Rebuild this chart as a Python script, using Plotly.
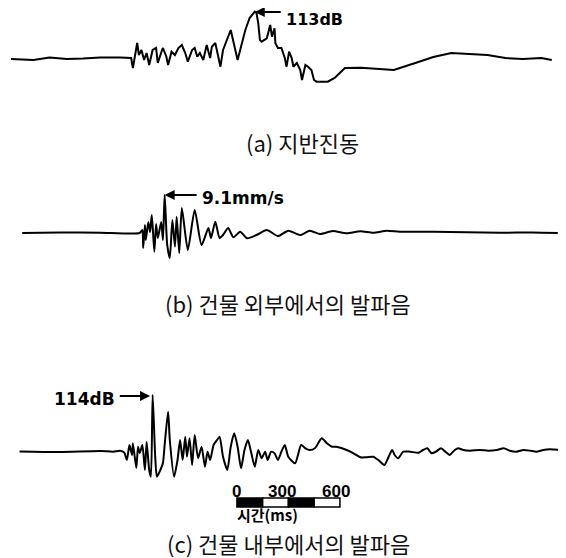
import plotly.graph_objects as go

# ---------------- data (time in ms, amplitude in relative units, baseline = 0) ----------------
ground_t = [0, 130, 225, 325, 420, 520, 635, 695, 700, 710, 735, 745, 760, 775, 790, 805, 825, 845,
            855, 880, 885, 905, 915, 935, 955, 975, 995, 1015, 1030, 1055, 1070, 1085, 1100, 1120,
            1140, 1160, 1170, 1190, 1200, 1220, 1235, 1250, 1270, 1280, 1320, 1345, 1365, 1390,
            1420, 1430, 1440, 1450, 1460, 1490, 1510, 1520, 1535, 1540, 1555, 1575, 1595, 1605,
            1620, 1635, 1645, 1665, 1685, 1695, 1715, 1730, 1750, 1765, 1780, 1845, 1885, 1915,
            1945, 2040, 2145, 2230, 2355, 2460, 2565, 2670, 2775, 2880, 2980, 3090, 3150]
ground_a = [-1, -2, 0.5, -1, -0.5, 0.5, 0.5, 0.5, 0, -10, 15, 3, 8, -2, 5, -7, 8, 10,
            -5, 8, 10, 1.3, -7, 6.3, 3, 10, 13, 5, -3.7, 8, 10, 1.3, 5, -2,
            13, 0, 11.3, 15, 6.3, -8.7, 8, 15, 25, 28, -2, 15, 28, 40,
            46.3, 45, 35, 18, 16.3, 19.7, 33, 21.3, 29.7, 14.7, 10, 10, 0, -8.7,
            6.3, 0, -8.7, -5, -12, -22, -7, -8.7, -12, -22, -23.7, -23.7, -20, -15,
            -10, -9.7, -11, -12, -5, 1, 5, 4, 3, 0, -1, 0, -2]

outdoor_t = [65, 285, 520, 750, 765, 770, 780, 785, 800, 810, 820, 835, 845, 855, 875, 885, 895,
             910, 925, 940, 955, 965, 980, 995, 1030, 1070, 1110, 1150, 1165, 1190, 1215, 1235,
             1265, 1295, 1335, 1375, 1430, 1490, 1555, 1615, 1685, 1740, 1800, 1875, 1955, 2035,
             2110, 2190, 2265, 2460, 2655, 2850, 3040, 3185]
outdoor_a = [0, 0.5, 0.3, 0, 3, -15, 8, -7, 11, 1, 18, -18.7, 9, -5, 11, -7, 38,
             -12, -25, 13, -13.7, 16.3, -20, 25, -17, 23, -12, 5, -5, 11.3, -5, -2,
             5, -4.3, 1.3, -5.3, -2, 3, -3, 2.3, -2, 2.3, -1, 2, -0.3, 1.7,
             0.3, 2.3, 1.3, 1.3, 0.7, 0.3, 0.5, 0]

indoor_t = [50, 285, 520, 595, 635, 660, 675, 690, 705, 710, 730, 740, 750, 765, 780, 790, 805, 815,
            825, 840, 850, 870, 885, 895, 915, 925, 950, 970, 985, 1000, 1015, 1025, 1040, 1055,
            1070, 1090, 1110, 1130, 1145, 1160, 1180, 1200, 1215, 1235, 1260, 1280, 1300, 1320,
            1340, 1360, 1380, 1400, 1420, 1440, 1460, 1480, 1495, 1515, 1535, 1555, 1575, 1595,
            1615, 1655, 1690, 1715, 1740, 1770, 1810, 1840, 1870, 1895, 1955, 1995, 2035, 2070,
            2110, 2140, 2175, 2200, 2220, 2235, 2255, 2285, 2325, 2375, 2400, 2425, 2450, 2475,
            2505, 2530, 2555, 2585, 2605, 2635, 2675, 2730, 2780, 2830, 2870, 2905, 2945, 2985,
            3025, 3060, 3100, 3140, 3200]
indoor_a = [-0.5, -1, 0, -0.7, 0.3, -1.7, -9, 6, -4, 7.7, -17, 4.3, -2, 6, -19, 9.3, -19, -25.7,
            56, -5.7, -25.7, -19, -12, 6, 39.3, 11, -25.7, -9, 11, -9, 14.3, -5.7, 12.7, -14,
            16, -7.3, 4.3, -15.7, -0.7, -9, 6, 11, 14.3, -5.7, -19, 4.3, 17.7, 4.3,
            -17.3, 1, 11, -2.3, -15.7, 1, -7.3, -0.7, -9, -0.7, -2.3, -9, -0.7, 6,
            -5.7, -12.3, 6, 2.7, 1, 2.7, 12.7, 7.7, 4.3, 4.3, 1, -2.3, -6.3, -6.3,
            -5.7, -9, -14, -5.7, 1, -4, -7.3, -0.7, -0.7, -1.7, 1, 2.7, -2.3, -0.7,
            2.7, -0.7, -4, 1, 2.7, 1, 0.3, 1, 0.3, 1, 2.7, 0.3, -0.7, 1,
            0.3, -0.7, 1, 1.7, 1]

# peak labels: (time of peak, amplitude of peak, label)
ground_peak = (1420, 46, "113dB")
outdoor_peak = (895, 38, "9.1mm/s")
indoor_peak = (810, 55, "114dB")

captions = ["(a) 지반진동", "(b) 건물 외부에서의 발파음", "(c) 건물 내부에서의 발파음"]
scale_ticks = [0, 300, 600]          # ms
scale_start = 1316                    # ms, position of the scale bar's zero
scale_title = "시간(ms)"

# ---------------- figure ----------------
# page has an 8px body margin: figure covers page pixels 8..566 x 8..558
W, H = 558, 550
OFF = 8
MS_PER_PX = 5.825


def px(p):       # page x pixel -> paper
    return (p - OFF) / W


def py(p):       # page y pixel -> paper
    return 1 - (p - OFF) / H


LINE = dict(color="black", width=2)

fig = go.Figure()
fig.add_trace(go.Scatter(x=ground_t, y=ground_a, mode="lines", line=LINE, yaxis="y",
                         hoverinfo="skip"))
fig.add_trace(go.Scatter(x=outdoor_t, y=outdoor_a, mode="lines",
                         line=dict(LINE, shape="spline", smoothing=0.6), yaxis="y2",
                         hoverinfo="skip"))
fig.add_trace(go.Scatter(x=indoor_t, y=indoor_a, mode="lines",
                         line=dict(LINE, shape="spline", smoothing=0.6), yaxis="y3",
                         hoverinfo="skip"))


def yr(base):    # baseline at page pixel `base`, 1 unit = 1 px
    top = base - OFF
    return [-(H - top), top]


hidden = dict(visible=False, fixedrange=True)
fig.update_layout(
    width=W, height=H,
    margin=dict(l=0, r=0, t=0, b=0),
    paper_bgcolor="white", plot_bgcolor="white",
    showlegend=False,
    xaxis=dict(range=[(OFF - 11) * MS_PER_PX, (OFF + W - 11) * MS_PER_PX], **hidden),
    yaxis=dict(range=yr(58), domain=[0, 1], **hidden),
    yaxis2=dict(range=yr(233), domain=[0, 1], overlaying="y", **hidden),
    yaxis3=dict(range=yr(451), domain=[0, 1], overlaying="y", **hidden),
)

ann = []
for (pt, pa, txt), yref, tail_dt, side in [
    (ground_peak, "y", 160, "right"),
    (outdoor_peak, "y2", 195, "right"),
    (indoor_peak, "y3", -185, "left"),
]:
    ann.append(dict(x=pt, y=pa, xref="x", yref=yref, ax=pt + tail_dt, ay=pa,
                    axref="x", ayref=yref, text="", showarrow=True,
                    arrowhead=2, arrowsize=1, arrowwidth=2, arrowcolor="black"))
    top_label = yref == "y"
    ann.append(dict(x=pt + tail_dt + (12 if side == "right" else -5),
                    y=py(8) if top_label else pa - 3,
                    xref="x", yref="paper" if top_label else yref,
                    text=txt, showarrow=False,
                    font=dict(family="DejaVu Sans", size=16 if top_label else 17,
                              color="black", weight="bold"),
                    xanchor="left" if side == "right" else "right",
                    yanchor="top" if top_label else "middle"))

cap_font = dict(family="Noto Sans CJK KR", size=22, color="#111")
for txt, cx, cy in zip(captions, [302, 288, 288], [142, 303, 543]):
    ann.append(dict(x=px(cx), y=py(cy), xref="paper", yref="paper", text=txt,
                    showarrow=False, font=cap_font, xanchor="center", yanchor="middle"))

# scale bar
seg = (scale_ticks[1] - scale_ticks[0]) / 2
y0, y1 = py(507), py(498)
shapes = []
n = int((scale_ticks[-1] - scale_ticks[0]) / seg)
for i in range(n):
    xa = scale_start + i * seg
    shapes.append(dict(type="rect", xref="x", yref="paper", x0=xa, x1=xa + seg, y0=y0, y1=y1,
                       fillcolor="black" if i % 2 == 0 else "white",
                       line=dict(color="black", width=1.5)))
for tk, xs in zip(scale_ticks, [0, -6, -4]):
    ann.append(dict(x=scale_start + tk, y=py(491), xref="x", yref="paper", text=str(tk),
                    showarrow=False, xshift=xs,
                    font=dict(family="Liberation Sans", size=17, weight="bold", color="black"),
                    xanchor="center", yanchor="middle"))
ann.append(dict(x=px(267), y=py(514), xref="paper", yref="paper", text=scale_title,
                showarrow=False,
                font=dict(family="Noto Sans CJK KR", size=15, weight="bold", color="black"),
                xanchor="center", yanchor="middle"))

fig.update_layout(annotations=ann, shapes=shapes)
fig.write_html("out.html")
